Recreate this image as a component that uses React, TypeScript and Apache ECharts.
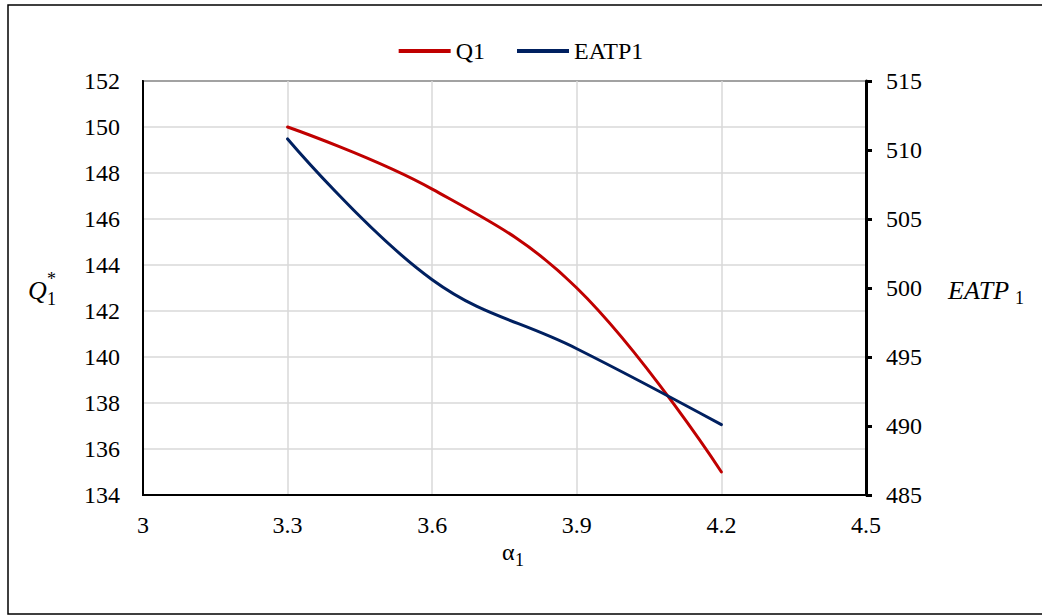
import React, { useEffect, useRef } from "react";
import * as echarts from "echarts";

const alpha = [3.3, 3.6, 3.9, 4.2];
const q1 = [150, 147.3, 143, 135];
const eatp1 = [510.8, 500.6, 495.6, 490.1];
const seriesNames = ["Q1", "EATP1"];

const FONT = "Liberation Serif, Times New Roman, serif";

export default function App() {
  const ref = useRef<HTMLDivElement>(null);
  useEffect(() => {
    if (!ref.current) return;
    const chart = echarts.init(ref.current, null, { renderer: "svg" });
    chart.setOption({
      animation: false,
      backgroundColor: "#fff",
      textStyle: { fontFamily: FONT },
      legend: {
        left: "center",
        top: 34,
        itemWidth: 52,
        itemHeight: 4,
        itemGap: 32,
        icon: "rect",
        textStyle: { fontFamily: FONT, fontSize: 24, color: "#000" },
        data: seriesNames,
      },
      grid: {
        left: 143,
        right: 176,
        top: 81,
        bottom: 121,
        show: true,
        borderColor: "#000",
        borderWidth: 2,
      },
      xAxis: {
        type: "value",
        min: 3,
        max: 4.5,
        interval: 0.3,
        axisLine: { show: true, onZero: false, lineStyle: { color: "#000", width: 2 } },
        axisTick: { show: false },
        axisLabel: {
          margin: 18,
          fontFamily: FONT,
          fontSize: 24,
          color: "#000",
          formatter: (v: number) => String(+v.toFixed(1)),
        },
        splitLine: { show: true, lineStyle: { color: "#d9d9d9", width: 1.5 } },
      },
      yAxis: [
        {
          type: "value",
          min: 134,
          max: 152,
          interval: 2,
          axisLine: { show: true, lineStyle: { color: "#000", width: 2 } },
          axisTick: { show: false },
          axisLabel: { margin: 23, fontFamily: FONT, fontSize: 24, color: "#000" },
          splitLine: { show: true, lineStyle: { color: "#d9d9d9", width: 1.5 } },
        },
        {
          type: "value",
          min: 485,
          max: 515,
          interval: 5,
          position: "right",
          axisLine: { show: true, lineStyle: { color: "#000", width: 3 } },
          axisTick: { show: true, inside: false, length: 6, lineStyle: { color: "#000", width: 3 } },
          axisLabel: { margin: 20, fontFamily: FONT, fontSize: 24, color: "#000" },
          splitLine: { show: false },
        },
      ],
      series: [
        {
          name: seriesNames[0],
          type: "line",
          yAxisIndex: 0,
          smooth: 0.4,
          symbol: "none",
          color: "#C00000",
          lineStyle: { width: 3, color: "#C00000", cap: "round" },
          data: alpha.map((a, i) => [a, q1[i]]),
        },
        {
          name: seriesNames[1],
          type: "line",
          yAxisIndex: 1,
          smooth: 0.4,
          symbol: "none",
          color: "#002060",
          lineStyle: { width: 3, color: "#002060", cap: "round" },
          data: alpha.map((a, i) => [a, eatp1[i]]),
        },
      ],
      graphic: [
        {
          type: "rect",
          shape: { x: 8, y: 5, width: 1100, height: 609 },
          style: { fill: "none", stroke: "#000", lineWidth: 1.5 },
          silent: true,
        },
        {
          type: "text",
          x: 28,
          y: 290,
          style: { text: "Q", fontFamily: FONT, fontStyle: "italic", fontSize: 26, fill: "#000", verticalAlign: "middle" },
        },
        {
          type: "text",
          x: 47,
          y: 299,
          style: { text: "1", fontFamily: FONT, fontSize: 18, fill: "#000", verticalAlign: "middle" },
        },
        {
          type: "text",
          x: 47,
          y: 279,
          style: { text: "*", fontFamily: FONT, fontSize: 18, fill: "#000", verticalAlign: "middle" },
        },
        {
          type: "text",
          x: 948,
          y: 290,
          style: { text: "EATP", fontFamily: FONT, fontStyle: "italic", fontSize: 26, fill: "#000", verticalAlign: "middle" },
        },
        {
          type: "text",
          x: 1015,
          y: 298,
          style: { text: "1", fontFamily: FONT, fontSize: 18, fill: "#000", verticalAlign: "middle" },
        },
        {
          type: "text",
          x: 502,
          y: 552,
          style: { text: "α", fontFamily: FONT, fontSize: 24, fill: "#000", verticalAlign: "middle" },
        },
        {
          type: "text",
          x: 515,
          y: 560,
          style: { text: "1", fontFamily: FONT, fontSize: 18, fill: "#000", verticalAlign: "middle" },
        },
      ],
    });
    return () => chart.dispose();
  }, []);
  return (
    <div
      ref={ref}
      style={{ position: "absolute", left: 0, top: 0, width: 1042, height: 616 }}
    />
  );
}
